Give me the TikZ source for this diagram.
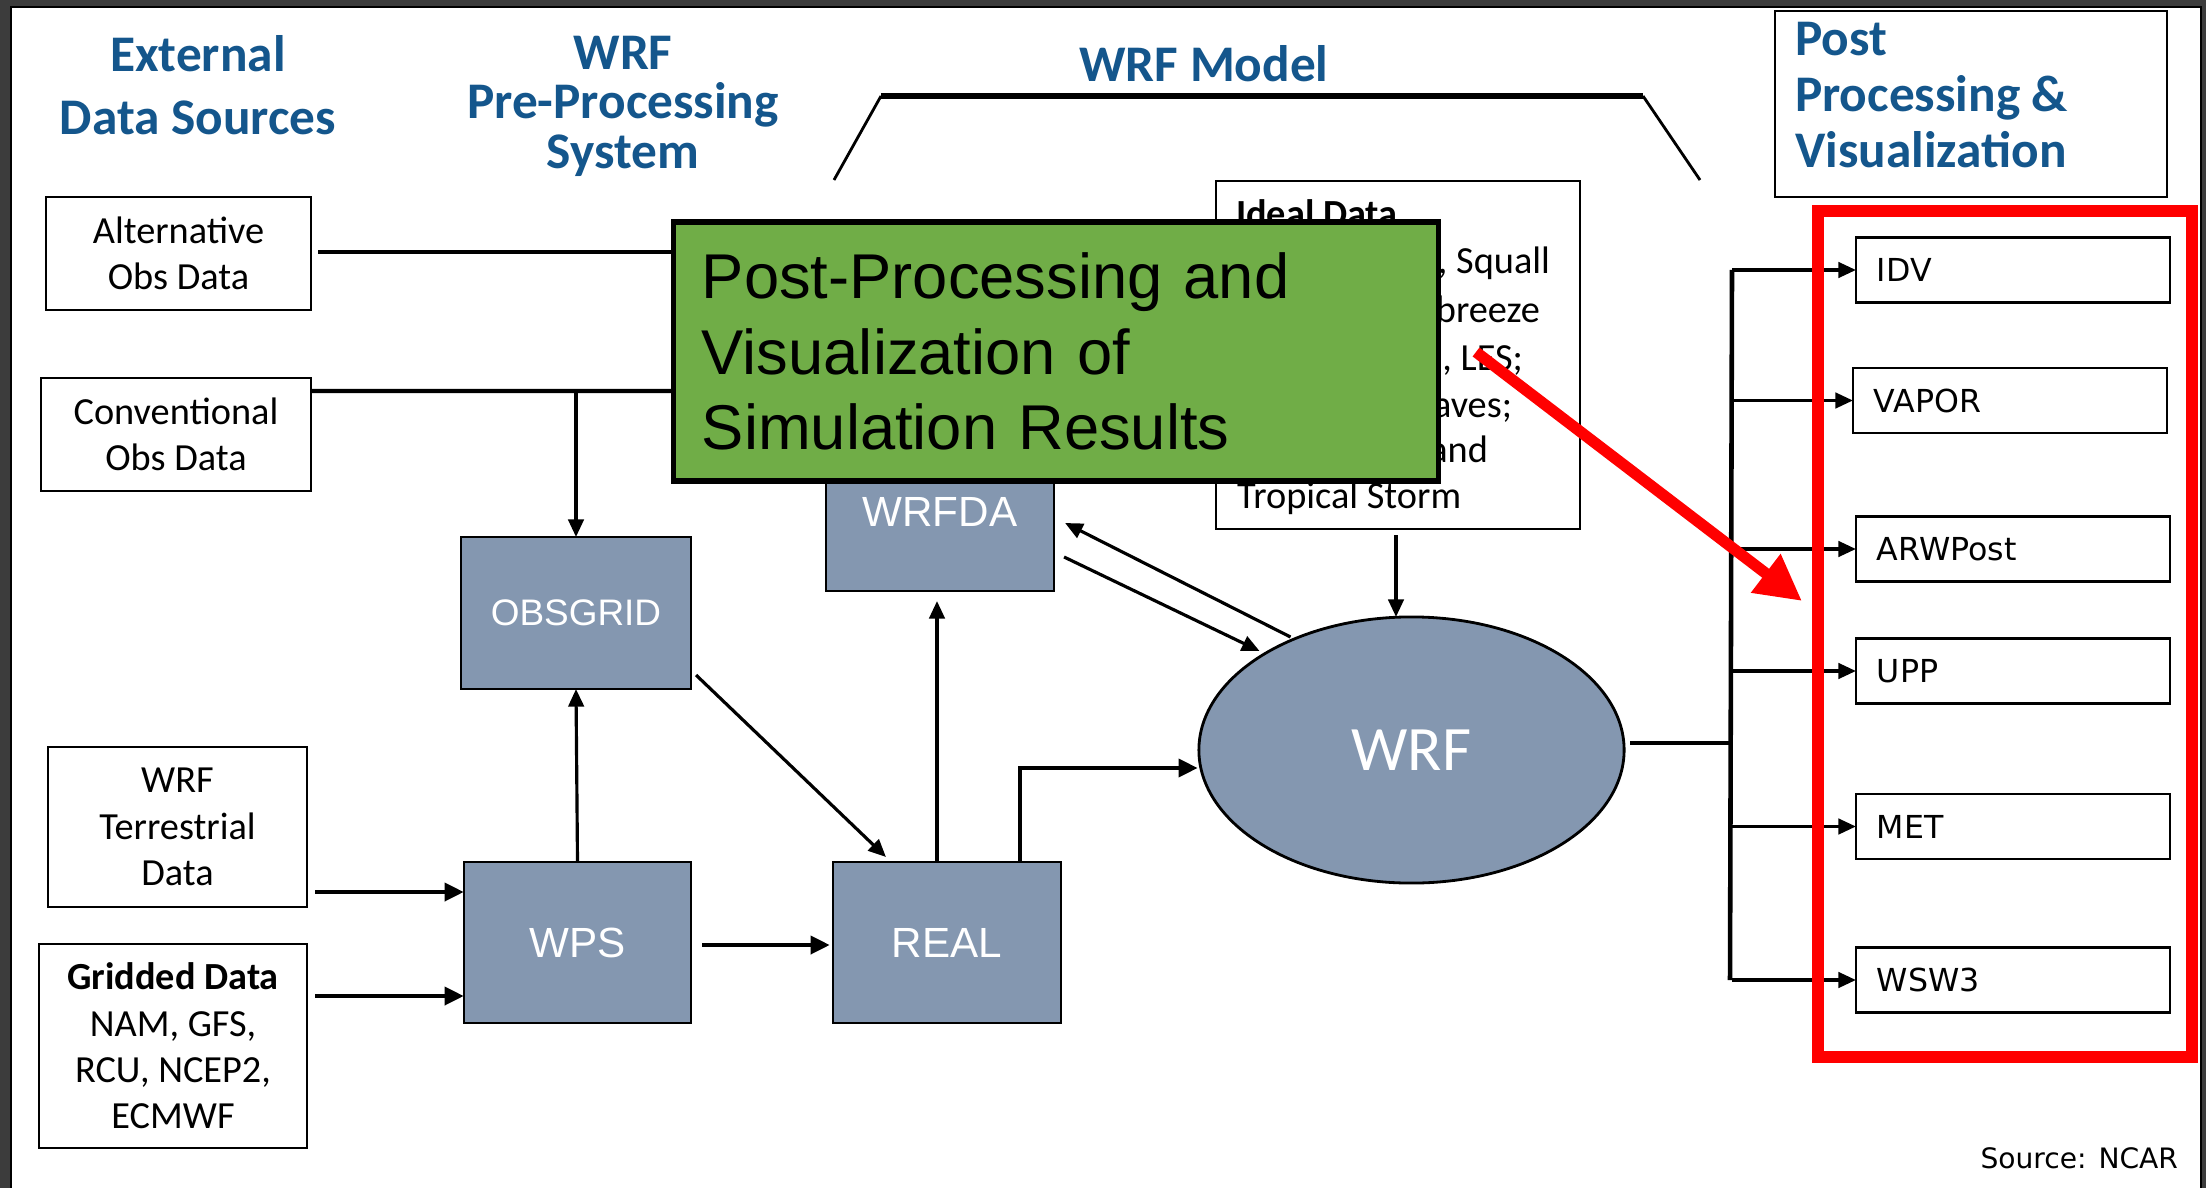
\documentclass[tikz,border=0pt]{standalone}
\usepackage{fontspec}
\setmainfont{Carlito}
\newfontfamily\arialf{Liberation Sans}
\newfontfamily\dejavuf{DejaVu Sans}
\usetikzlibrary{arrows.meta,calc,shapes.geometric}
\definecolor{titleblue}{RGB}{20,86,140}
\definecolor{boxgray}{RGB}{132,151,176}
\definecolor{pgreen}{RGB}{112,173,71}
\definecolor{framegray}{RGB}{60,60,60}
\definecolor{hired}{RGB}{255,0,0}
\begin{document}
\begin{tikzpicture}[x=0.01cm,y=-0.01cm,
  every node/.style={inner sep=0pt, outer sep=0pt},
  title/.style={text=titleblue, align=center, font=\bfseries\fontsize{14.6}{18}\selectfont},
  srcbox/.style={draw, line width=0.6pt, fill=white, align=center, font=\fontsize{10.9}{13.2}\selectfont},
  gbox/.style={draw, line width=0.6pt, fill=boxgray, text=white, font=\arialf\fontsize{12}{14}\selectfont},
  rbox/.style={draw, line width=0.6pt, fill=white, minimum width=3.14cm, minimum height=0.65cm, inner xsep=0.21cm, text width=2.72cm, align=left, font=\dejavuf\fontsize{9}{11}\selectfont},
  idtxt/.style={font=\fontsize{10.9}{13.2}\selectfont},
  conn/.style={line width=0.9pt, -{Triangle[length=5pt,width=4.4pt]}},
  thickconn/.style={line width=1.4pt, -{Triangle[length=5.5pt,width=5pt]}},
  plainline/.style={line width=1.2pt},
]
\useasboundingbox (0,0) rectangle (2206,1188);
% frame
\fill[framegray] (0,0) rectangle (2206,1188);
\fill[white] (11,7) rectangle (2201,1188);
\draw[black, line width=0.6pt] (11,1188) -- (11,7) -- (2201,7) -- (2201,1188);

% titles
\node[title, font=\bfseries\fontsize{14.6}{17.9}\selectfont] (tExt) at (198,85) {External\\Data Sources};
\node[title, font=\bfseries\fontsize{14.6}{14.1}\selectfont] (tPre) at (623,106) {WRF\\Pre-Processing\\System};
\node[title] (tModel) at (1204,64) {WRF Model};

% bracket
\coordinate (bL) at (834,180);
\coordinate (bLT) at (881,96);
\coordinate (bRT) at (1643,96);
\coordinate (bR) at (1700,180);
\draw[line width=0.8pt] (bL) -- (bLT);
\draw[line width=1.5pt] (bLT) -- (bRT);
\draw[line width=0.8pt] (bRT) -- (bR);

% post title box
\node[draw, line width=0.6pt, minimum width=3.92cm, minimum height=1.86cm] (postbox) at (1971,104) {};
\node[title, align=left, anchor=west, font=\bfseries\fontsize{14.6}{15.9}\selectfont] (tPost) at (1795,95) {Post\\Processing \&\\Visualization};

% external sources
\node[srcbox, minimum width=2.65cm, minimum height=1.13cm] (alt) at (178.5,253.5) {Alternative\\Obs Data};
\node[srcbox, minimum width=2.70cm, minimum height=1.13cm] (conv) at (176,434.5) {Conventional\\Obs Data};
\node[srcbox, minimum width=2.59cm, minimum height=1.60cm] (terr) at (177.5,827) {WRF\\Terrestrial\\Data};
\node[srcbox, minimum width=2.68cm, minimum height=2.04cm] (grid) at (173,1046) {\textbf{Gridded Data}\\NAM, GFS,\\RCU, NCEP2,\\ECMWF};

% processing boxes
\node[gbox, font=\arialf\fontsize{10.5}{12}\selectfont, minimum width=2.30cm, minimum height=1.52cm] (obsgrid) at (576,613) {OBSGRID};
\node[gbox, minimum width=2.27cm, minimum height=1.61cm] (wps) at (577.5,942.5) {WPS};
\node[gbox, minimum width=2.28cm, minimum height=1.61cm] (real) at (947,942.5) {REAL};
\node[gbox, minimum width=2.28cm, minimum height=1.58cm] (wrfda) at (940,512) {WRFDA};
\node[ellipse, draw, line width=0.8pt, fill=boxgray, text=white, minimum width=4.25cm, minimum height=2.66cm, font=\fontsize{18}{20}\selectfont] (wrf) at (1411.5,750) {WRF};

% ideal data box
\node[draw, line width=0.6pt, fill=white, minimum width=3.64cm, minimum height=3.48cm] (ideal) at (1398,355) {};
\node[idtxt, anchor=base west, font=\bfseries\fontsize{10.9}{13.2}\selectfont] (id0) at (1236,226) {Ideal Data};
\node[idtxt, anchor=base east] (id1) at (1550,273) {, Squall};
\node[idtxt, anchor=base east] (id2) at (1540,322) {breeze};
\node[idtxt, anchor=base east] (id3) at (1523,370) {l, LES;};
\node[idtxt, anchor=base east] (id4) at (1512,417) {aves;};
\node[idtxt, anchor=base east] (id5) at (1488,462) {and};
\node[idtxt, anchor=base west] (id6) at (1237,508) {Tropical Storm};

% connectors (left part)
\coordinate (altout) at ($(alt.east)+(7,-1.5)$);
\coordinate (altend) at (720,252);
\draw[plainline] (altout) -- (altend);
\coordinate (convout) at ($(conv.north east)+(0,13)$);
\coordinate (convend) at (720,391);
\draw[plainline] (convout) -- (convend);
\draw[conn] (convout -| obsgrid.north) -- (obsgrid.north);

\coordinate (terrout) at ($(terr.east)+(8,65)$);
\draw[thickconn] (terrout) -- (terrout -| wps.west);
\coordinate (gridout) at ($(grid.east)+(8,-50)$);
\draw[thickconn] (gridout) -- (gridout -| wps.west);

\draw[conn] (wps.north) -- (obsgrid.south);
\draw[conn] ($(obsgrid.south east)+(5,-14)$) -- ($(real.north west)+(53,-5)$);
\draw[thickconn] ($(wps.east)+(11,2.5)$) -- ($(real.west)+(-3,2.5)$);
\draw[conn] ($(real.north)+(-10,0)$) -- ($(wrfda.south)+(-3,10)$);
\coordinate (realout) at ($(real.north)+(73,0)$);
\draw[thickconn] (realout) |- ($(wrf.west)+(-1,18)$);
\draw[conn] ($(wrf.center)+(-121,-113)$) -- ($(wrfda.east)+(11,11)$);
\draw[conn] ($(wrfda.east)+(10,45)$) -- ($(wrf.center)+(-152,-99)$);
\coordinate (idout) at ($(ideal.south)+(-2,6)$);
\draw[conn] (idout) -- (idout |- wrf.north);

% green overlay
\node[draw, line width=1.5pt, fill=pgreen, minimum width=7.64cm, minimum height=2.59cm, text width=7.08cm, inner xsep=0.28cm, align=left, font=\arialf\fontsize{18}{21.5}\selectfont] (green) at (1056,351.5) {Post-Processing and\\Visualization of\\Simulation Results};

% post-processing tools
\node[rbox] (idv) at (2013,270) {IDV};
\node[rbox] (vapor) at (2010,400.5) {VAPOR};
\node[rbox] (arw) at (2013,549) {ARWPost};
\node[rbox] (upp) at (2013,671) {UPP};
\node[rbox] (met) at (2013,826.5) {MET};
\node[rbox] (wsw) at (2013,980) {WSW3};

\coordinate (busT) at (1732,270);
\coordinate (busB) at (1730,980);
\coordinate (wrfout) at ($(wrf.east)+(6,-7)$);
\draw[line width=1.3pt] (busT) -- (busB);
\draw[plainline] (wrfout) -- (wrfout -| busT);
\foreach \b in {idv,vapor,arw,upp,met,wsw}{
  \draw[conn] (\b.west -| busT) -- (\b.west);
}

% red highlight
\node[draw=hired, line width=3.4pt, minimum width=3.74cm, minimum height=8.46cm] (hl) at (2005,634) {};
\coordinate (raS) at (1476,352);
\coordinate (raE) at (1802,601);
\draw[hired, line width=3.2pt, -{Triangle[length=13pt,width=13pt]}] (raS) -- (raE);

\node[anchor=east, font=\dejavuf\fontsize{8}{10}\selectfont] (srcnote) at (2178,1158) {Source: NCAR};
\end{tikzpicture}
\end{document}
